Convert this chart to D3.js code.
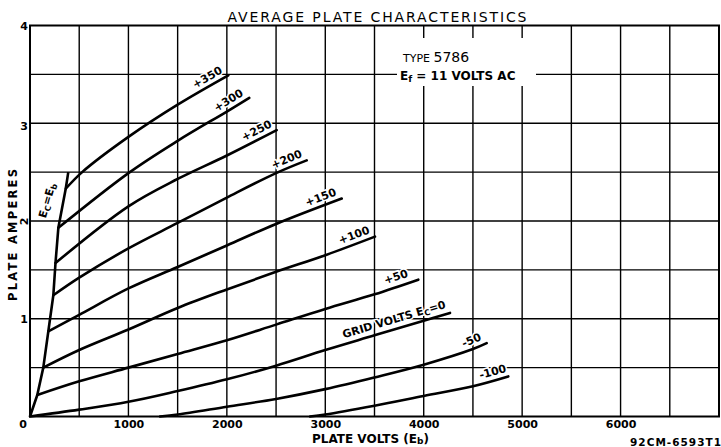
<!DOCTYPE html>
<html><head><meta charset="utf-8">
<script src="https://cdn.jsdelivr.net/npm/d3@7"></script>
<style>body{margin:0;background:#fff}svg{display:block}</style>
</head><body><svg id="c" width="721" height="447"></svg>
<script>
// ---- data ----
const xTickValues = [1000, 2000, 3000, 4000, 5000, 6000];
const yTickValues = [0, 1, 2, 3, 4];
const xGridValues = [500, 1000, 1500, 2000, 2500, 3000, 3500, 4000, 4500, 5000, 5500, 6000, 6500];
const yGridValues = [0.5, 1, 1.5, 2, 2.5, 3, 3.5];
const curveLabels = ["+350", "+300", "+250", "+200", "+150", "+100", "+50", "GRID VOLTS", "-50", "-100"];
const gridP350 = [[363, 2.33], [530, 2.50], [1000, 2.86], [1500, 3.19], [2015, 3.49]];
const gridP300 = [[288, 1.93], [1000, 2.49], [1500, 2.82], [2000, 3.12], [2228, 3.26]];
const gridP250 = [[259, 1.57], [1000, 2.15], [1500, 2.43], [2000, 2.67], [2506, 2.93]];
const gridP200 = [[237, 1.24], [500, 1.42], [1000, 1.72], [1500, 1.98], [2000, 2.24], [2500, 2.49], [2811, 2.62]];
const gridP150 = [[186, 0.87], [500, 1.04], [1000, 1.31], [1500, 1.53], [2000, 1.75], [2500, 1.97], [3167, 2.23]];
const gridP100 = [[135, 0.50], [500, 0.68], [1000, 0.89], [1500, 1.11], [2000, 1.30], [2500, 1.48], [3000, 1.65], [3505, 1.84]];
const gridP50  = [[74, 0.22], [500, 0.36], [1000, 0.50], [1500, 0.64], [2000, 0.78], [2500, 0.94], [3000, 1.10], [3500, 1.25], [3945, 1.40]];
const grid0    = [[0, 0], [500, 0.07], [1000, 0.15], [1500, 0.26], [2000, 0.38], [2500, 0.52], [3000, 0.68], [3500, 0.83], [4000, 0.98], [4267, 1.06]];
const gridM50  = [[1321, 0], [1500, 0.02], [2000, 0.10], [2500, 0.18], [3000, 0.28], [3500, 0.40], [4000, 0.53], [4500, 0.69], [4640, 0.75]];
const gridM100 = [[2845, 0], [3000, 0.02], [3500, 0.11], [4000, 0.21], [4500, 0.31], [4859, 0.41]];
const ecEqualsEb = [[0, 0], [74, 0.22], [135, 0.50], [186, 0.87], [237, 1.24], [259, 1.57], [288, 1.93], [363, 2.33], [389, 2.50]];
const curves = [gridP350, gridP300, gridP250, gridP200, gridP150, gridP100, gridP50, grid0, gridM50, gridM100];

// ---- layout ----
const svg = d3.select("#c");
const x = d3.scaleLinear().domain([0, 7000]).range([30, 719]);
const y = d3.scaleLinear().domain([0, 4]).range([416.5, 25.5]);
const FONT = "'DejaVu Sans', sans-serif";

svg.append("rect").attr("width", 721).attr("height", 447).attr("fill", "#fff");

// grid
const g = svg.append("g").attr("stroke", "#000").attr("stroke-width", 1.4);
g.selectAll(".gv").data(xGridValues).join("line")
  .attr("x1", d => x(d)).attr("x2", d => x(d)).attr("y1", y(0)).attr("y2", y(4));
g.selectAll(".gh").data(yGridValues).join("line")
  .attr("x1", x(0)).attr("x2", x(7000)).attr("y1", d => y(d)).attr("y2", d => y(d));

// knock-out behind type info
svg.append("rect").attr("x", 397).attr("y", 38).attr("width", 139).attr("height", 48).attr("fill", "#fff");

// frame
svg.append("rect").attr("x", x(0)).attr("y", y(4)).attr("width", x(7000) - x(0)).attr("height", y(0) - y(4))
  .attr("fill", "none").attr("stroke", "#000").attr("stroke-width", 2);

// curves
const line = d3.line().x(d => x(d[0])).y(d => y(d[1])).curve(d3.curveCatmullRom.alpha(0.5));
svg.append("g").selectAll("path").data(curves).join("path")
  .attr("d", line).attr("fill", "none").attr("stroke", "#000").attr("stroke-width", 2.6)
  .attr("stroke-linecap", "round");
svg.append("path").datum(ecEqualsEb).attr("d", d3.line().x(d => x(d[0])).y(d => y(d[1])))
  .attr("fill", "none").attr("stroke", "#000").attr("stroke-width", 2.6).attr("stroke-linejoin", "round");

// curve labels
const labelOffsets = [[-3, 5], [-3, 5], [-2, 5], [-2, 5], [-3, 5], [-3, 5], [-8, 6], [-2, 6], [-3, 5], [0, 5]];
curves.forEach((c, i) => {
  const p1 = c[c.length - 2], p2 = c[c.length - 1];
  const px = x(p2[0]), py = y(p2[1]);
  const ang = Math.atan2(y(p2[1]) - y(p1[1]), x(p2[0]) - x(p1[0])) * 180 / Math.PI;
  const t = svg.append("text")
    .attr("transform", `translate(${px},${py}) rotate(${ang})`)
    .attr("x", labelOffsets[i][0]).attr("y", -labelOffsets[i][1])
    .attr("text-anchor", "end").attr("font-family", FONT).attr("font-weight", "bold")
    .attr("font-size", 11).attr("fill", "#000")
    .attr("stroke", "#fff").attr("stroke-width", 3).attr("paint-order", "stroke");
  if (curveLabels[i] === "GRID VOLTS") {
    t.text(curveLabels[i] + " E");
    t.append("tspan").attr("font-size", 8).attr("dy", 2).text("C");
    t.append("tspan").attr("dy", -2).text("=0");
  } else {
    t.text(curveLabels[i]);
  }
});

// Ec = Eb label
const ecl = svg.append("text").attr("transform", `translate(${x(200) + 1},${y(2.2)}) rotate(-74)`)
  .attr("text-anchor", "middle").attr("font-family", FONT).attr("font-weight", "bold").attr("font-size", 11)
  .attr("stroke", "#fff").attr("stroke-width", 3).attr("paint-order", "stroke").text("E");
ecl.append("tspan").attr("font-size", 8).attr("dy", 2).text("C");
ecl.append("tspan").attr("dy", -2).text("=E");
ecl.append("tspan").attr("font-size", 8).attr("dy", 2).text("b");

// axes
const xAxis = svg.append("g").attr("transform", `translate(0,${y(0)})`)
  .call(d3.axisBottom(x).tickValues(xTickValues).tickSize(0).tickPadding(3.5).tickFormat(d3.format("d")));
xAxis.select(".domain").remove();
xAxis.selectAll("text").attr("font-family", FONT).attr("font-weight", "bold").attr("font-size", 11).attr("fill", "#000");

const yAxis = svg.append("g").attr("transform", `translate(${x(0)},0)`)
  .call(d3.axisLeft(y).tickValues(yTickValues).tickSize(0).tickPadding(2).tickFormat(d3.format("d")));
yAxis.select(".domain").remove();
yAxis.selectAll("text").attr("font-family", FONT).attr("font-weight", "bold").attr("font-size", 11).attr("fill", "#000");
yAxis.selectAll(".tick").filter(d => d === 0).select("text").attr("dy", "1.0em").attr("x", -3);
yAxis.selectAll(".tick").filter(d => d === 3).select("text").attr("dy", "0.55em");
yAxis.selectAll(".tick").filter(d => d === 2).select("text")
  .attr("dy", null).attr("x", null).attr("text-anchor", "middle")
  .attr("transform", "translate(-6,0) rotate(-90)").attr("dy", "0.35em");

// titles
svg.append("text").attr("x", 377).attr("y", 22).attr("text-anchor", "middle")
  .attr("font-family", FONT).attr("font-size", 14).attr("textLength", 299).attr("lengthAdjust", "spacing")
  .text("AVERAGE PLATE CHARACTERISTICS");

const typ = svg.append("text").attr("x", 403).attr("y", 62).attr("font-family", FONT).attr("font-size", 11);
typ.append("tspan").text("TYPE ");
typ.append("tspan").attr("font-size", 14).text("5786");

const ef = svg.append("text").attr("x", 400).attr("y", 80).attr("font-family", FONT).attr("font-size", 12).attr("font-weight", "bold");
ef.append("tspan").text("E");
ef.append("tspan").attr("font-size", 9).attr("dy", 2).text("f");
ef.append("tspan").attr("dy", -2).text(" = 11 VOLTS  AC");

svg.append("text").attr("transform", "translate(17,235) rotate(-90)").attr("text-anchor", "middle")
  .attr("font-family", FONT).attr("font-weight", "bold").attr("font-size", 11.5)
  .attr("textLength", 132).attr("lengthAdjust", "spacing").text("PLATE AMPERES");

const xl = svg.append("text").attr("x", 312).attr("y", 443)
  .attr("font-family", FONT).attr("font-weight", "bold").attr("font-size", 12);
xl.append("tspan").text("PLATE VOLTS (E");
xl.append("tspan").attr("font-size", 9).attr("dy", 1).text("b");
xl.append("tspan").attr("dy", -1).text(")");

svg.append("text").attr("x", 630).attr("y", 446).attr("font-family", FONT).attr("font-weight", "bold")
  .attr("font-size", 10.5).attr("textLength", 91).attr("lengthAdjust", "spacing").text("92CM-6593T1");
</script></body></html>
